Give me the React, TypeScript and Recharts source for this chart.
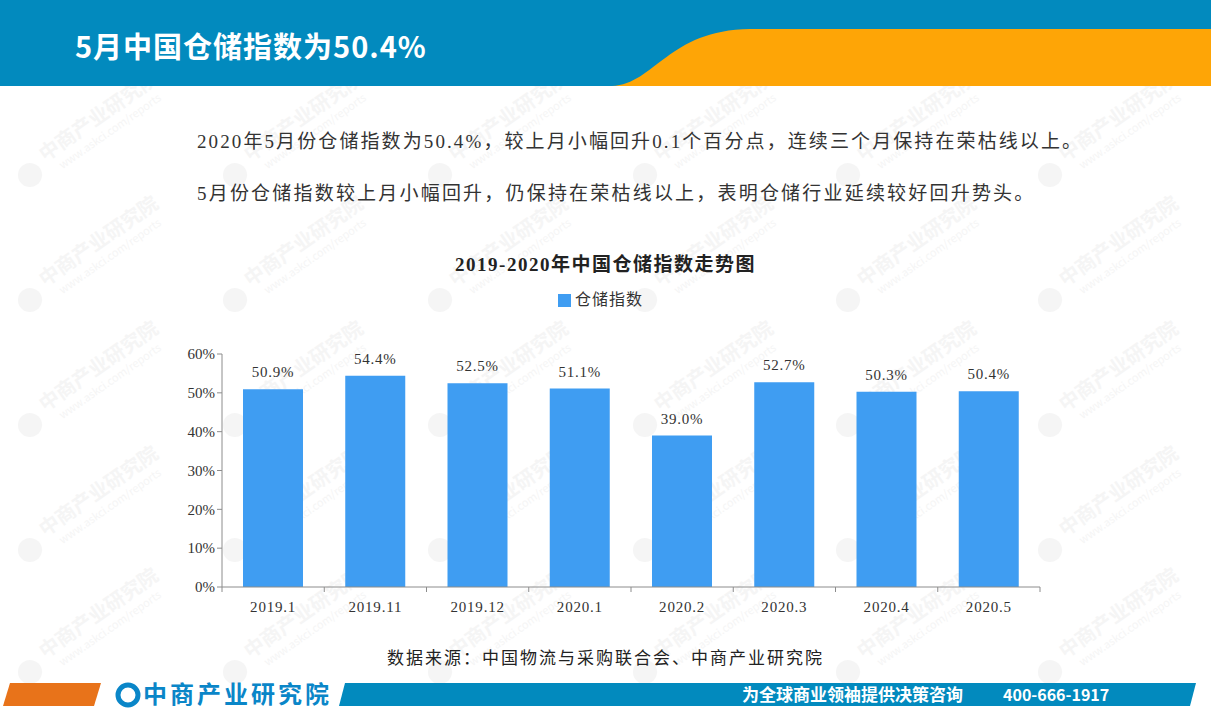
import React from 'react';
import { BarChart, Bar, XAxis, YAxis, Legend, LabelList } from 'recharts';

const categories = ['2019.1', '2019.11', '2019.12', '2020.1', '2020.2', '2020.3', '2020.4', '2020.5'];
const storageIndex = [50.9, 54.4, 52.5, 51.1, 39.0, 52.7, 50.3, 50.4];
const yTicks = [0, 10, 20, 30, 40, 50, 60];

const data = categories.map((c, i) => ({ name: c, value: storageIndex[i] }));

const BAR_COLOR = '#3F9DF2';
const AXIS_COLOR = '#8c8c8c';
const TEXT_COLOR = '#333';
const SERIF = '"Liberation Serif", "DejaVu Serif", "Noto Sans CJK SC", serif';
const SANS = '"Noto Sans CJK SC", "Noto Sans", sans-serif';

const PLOT_LEFT = 222;
const PLOT_RIGHT = 1040;
const BAND = (PLOT_RIGHT - PLOT_LEFT) / categories.length;

const XTick = (props: any) => {
  const { x, y, payload, index } = props;
  const axisY = y - 13;
  return (
    <g>
      <line x1={x - BAND / 2} x2={x - BAND / 2} y1={axisY} y2={axisY + 5} stroke={AXIS_COLOR} />
      {index === categories.length - 1 && (
        <line x1={x + BAND / 2} x2={x + BAND / 2} y1={axisY} y2={axisY + 5} stroke={AXIS_COLOR} />
      )}
      <text x={x} y={y} dy={12} textAnchor="middle" fill={TEXT_COLOR} fontSize={15} letterSpacing={0.8} fontFamily={SERIF}>
        {payload.value}
      </text>
    </g>
  );
};

const watermarkXs = [30, 235, 440, 645, 848, 1050];
const watermarkYs = [175, 300, 425, 550, 672];

const Watermarks = () => (
  <svg width={1211} height={712} style={{ position: 'absolute', left: 0, top: 0 }}>
    {watermarkYs.map((wy) =>
      watermarkXs.map((wx) => (
        <g key={`${wx}-${wy}`} transform={`translate(${wx},${wy}) rotate(-35)`} opacity={0.3}>
          <circle cx={0} cy={0} r={12} fill="#e0e0e0" />
          <text x={20} y={-2} fontSize={20} fontWeight="bold" fill="#e0e0e0" fontFamily={SANS}>中商产业研究院</text>
          <text x={30} y={14} fontSize={11} fill="#e0e0e0" fontFamily={SANS}>www.askci.com/reports</text>
        </g>
      ))
    )}
  </svg>
);

const App: React.FC = () => {
  return (
    <div style={{ position: 'absolute', left: 0, top: 0, width: 1211, height: 712, background: '#fff', overflow: 'hidden' }}>
      <Watermarks />

      {/* header */}
      <svg width={1211} height={88} style={{ position: 'absolute', left: 0, top: 0 }}>
        <rect x={0} y={0} width={1211} height={86} fill="#028ABE" />
        <path d="M 612 86 C 655 84, 668 30, 750 29 L 1211 29 L 1211 86 Z" fill="#FEA506" />
        <text x={75} y={58} fill="#fff" fontSize={29} fontWeight="bold" letterSpacing={1} fontFamily={SANS}>5月中国仓储指数为50.4%</text>
      </svg>

      <div style={{ position: 'absolute', left: 197, top: 126, fontSize: 19, letterSpacing: 2.1, color: TEXT_COLOR, fontFamily: SERIF, whiteSpace: 'nowrap' }}>
        2020年5月份仓储指数为50.4%，较上月小幅回升0.1个百分点，连续三个月保持在荣枯线以上。
      </div>
      <div style={{ position: 'absolute', left: 197, top: 178, fontSize: 19, letterSpacing: 2.2, color: TEXT_COLOR, fontFamily: SERIF, whiteSpace: 'nowrap' }}>
        5月份仓储指数较上月小幅回升，仍保持在荣枯线以上，表明仓储行业延续较好回升势头。
      </div>

      <div style={{ position: 'absolute', left: 0, width: 1211, top: 249, textAlign: 'center', fontSize: 19, letterSpacing: 1.5, fontWeight: 'bold', color: '#222', fontFamily: SERIF }}>
        2019-2020年中国仓储指数走势图
      </div>

      <div style={{ position: 'absolute', left: 0, top: 0 }}>
        <BarChart width={1211} height={712} data={data} margin={{ top: 330, right: 1211 - PLOT_RIGHT, bottom: 95, left: PLOT_LEFT - 60 }}>
          <Legend
            verticalAlign="top"
            align="center"
            iconType="square"
            iconSize={13}
            wrapperStyle={{ top: 286, left: 0, width: 1211, fontFamily: SANS, fontSize: 16 }}
            formatter={(v: string) => <span style={{ color: TEXT_COLOR, letterSpacing: 1 }}>{v}</span>}
          />
          <XAxis
            dataKey="name"
            stroke={AXIS_COLOR}
            tickLine={false}
            tickSize={5}
            tickMargin={8}
            height={30}
            tick={<XTick />}
            interval={0}
          />
          <YAxis
            width={60}
            domain={[0, 60]}
            ticks={yTicks}
            stroke={AXIS_COLOR}
            tickSize={5}
            tick={{ fill: TEXT_COLOR, fontSize: 15, fontFamily: SERIF }}
            tickFormatter={(v: number) => `${v}%`}
          />
          <Bar dataKey="value" name="仓储指数" fill={BAR_COLOR} barSize={60} isAnimationActive={false}>
            <LabelList
              dataKey="value"
              position="top"
              offset={12}
              formatter={(v: any) => `${Number(v).toFixed(1)}%`}
              style={{ fill: TEXT_COLOR, fontSize: 15, letterSpacing: 0.8, fontFamily: SERIF }}
            />
          </Bar>
        </BarChart>
      </div>

      <div style={{ position: 'absolute', left: 0, width: 1211, top: 644, textAlign: 'center', fontSize: 17, letterSpacing: 2, color: '#222', fontFamily: SERIF }}>
        数据来源：中国物流与采购联合会、中商产业研究院
      </div>

      {/* footer */}
      <svg width={1211} height={42} style={{ position: 'absolute', left: 0, top: 670 }}>
        <polygon points="10,13 101,13 94,36 3,36" fill="#E8731A" />
        <circle cx={128} cy={25} r={10} fill="none" stroke="#0A86C8" strokeWidth={5} />
        <text x={143} y={33} fill="#0A86C8" fontSize={24} fontWeight="bold" letterSpacing={3} fontFamily={SANS}>中商产业研究院</text>
        <polygon points="345,13 1196,13 1190,36 339,36" fill="#028ABE" />
        <text x={742} y={31} fill="#fff" fontSize={17} fontWeight="bold" fontFamily={SANS}>为全球商业领袖提供决策咨询</text>
        <text x={1003} y={31} fill="#fff" fontSize={16} fontWeight="bold" fontFamily={SANS}>400-666-1917</text>
      </svg>
    </div>
  );
};

export default App;
